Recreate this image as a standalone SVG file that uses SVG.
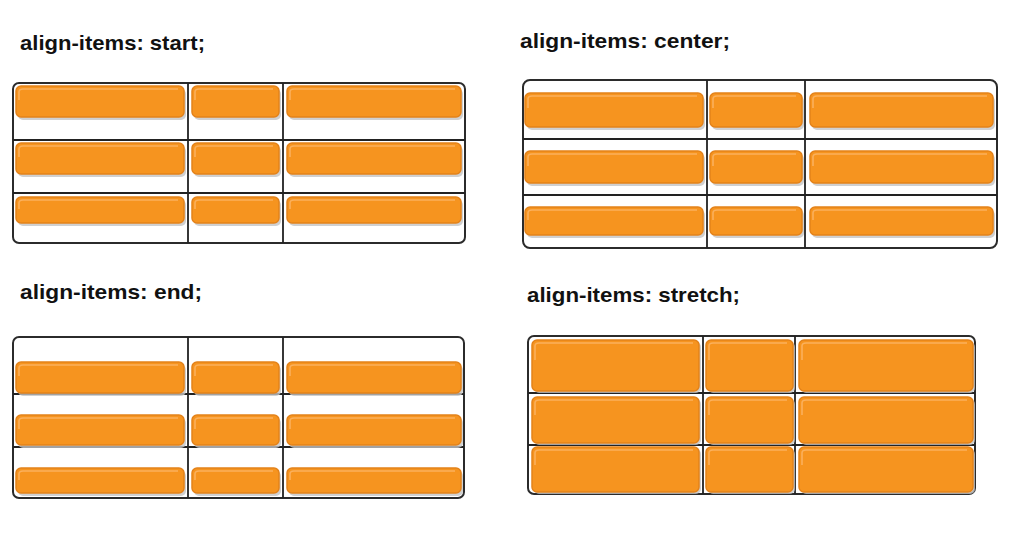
<svg xmlns="http://www.w3.org/2000/svg" width="1011" height="533" viewBox="0 0 1011 533">
<style>
.title{font-family:"Liberation Sans",Arial,sans-serif;font-weight:bold;font-size:21px;fill:#111}
.box{fill:#fff;stroke:#2b2b2b;stroke-width:2}
.div{stroke:#222;stroke-width:1.8;fill:none}
.sh{fill:#c4c4c4;opacity:0.8}
.bar{fill:#F6941F;stroke:#E3821A;stroke-width:1.5}
.hl{fill:none;stroke:#FBB566;stroke-width:1.6;opacity:0.85}
</style>
<rect width="1011" height="533" fill="#fff"/>

<g id="panel-start">
<text class="title" x="20" y="50" textLength="185" lengthAdjust="spacingAndGlyphs">align-items: start;</text>
<rect class="box" x="13" y="83" width="452" height="160" rx="6"/>
<path class="div" d="M188 83V243M283 83V243M13 140H465M13 193H465"/>
<g id="s-bars">
<rect class="sh" x="18" y="89" width="168" height="31" rx="5"/><rect class="bar" x="16" y="86" width="168" height="31" rx="5"/><path class="hl" d="M19 100V92Q19 89 23 89H178"/>
<rect class="sh" x="194" y="89" width="87" height="31" rx="5"/><rect class="bar" x="192" y="86" width="87" height="31" rx="5"/><path class="hl" d="M195 100V92Q195 89 199 89H273"/>
<rect class="sh" x="289" y="89" width="174" height="31" rx="5"/><rect class="bar" x="287" y="86" width="174" height="31" rx="5"/><path class="hl" d="M290 100V92Q290 89 294 89H455"/>
<rect class="sh" x="18" y="146" width="168" height="31" rx="5"/><rect class="bar" x="16" y="143" width="168" height="31" rx="5"/><path class="hl" d="M19 157V149Q19 146 23 146H178"/>
<rect class="sh" x="194" y="146" width="87" height="31" rx="5"/><rect class="bar" x="192" y="143" width="87" height="31" rx="5"/><path class="hl" d="M195 157V149Q195 146 199 146H273"/>
<rect class="sh" x="289" y="146" width="174" height="31" rx="5"/><rect class="bar" x="287" y="143" width="174" height="31" rx="5"/><path class="hl" d="M290 157V149Q290 146 294 146H455"/>
<rect class="sh" x="18" y="200" width="168" height="26" rx="5"/><rect class="bar" x="16" y="197" width="168" height="26" rx="5"/><path class="hl" d="M19 209V203Q19 200 23 200H178"/>
<rect class="sh" x="194" y="200" width="87" height="26" rx="5"/><rect class="bar" x="192" y="197" width="87" height="26" rx="5"/><path class="hl" d="M195 209V203Q195 200 199 200H273"/>
<rect class="sh" x="289" y="200" width="174" height="26" rx="5"/><rect class="bar" x="287" y="197" width="174" height="26" rx="5"/><path class="hl" d="M290 209V203Q290 200 294 200H455"/>
</g>
</g>

<g id="panel-center">
<text class="title" x="520" y="48" textLength="210" lengthAdjust="spacingAndGlyphs">align-items: center;</text>
<rect class="box" x="523" y="80" width="474" height="168" rx="7"/>
<path class="div" d="M707 80V248M805 80V248M523 139H997M523 195H997"/>
<g id="c-bars">
<rect class="sh" x="527" y="96" width="178" height="34" rx="5"/><rect class="bar" x="525" y="93" width="178" height="34" rx="5"/><path class="hl" d="M528 108V99Q528 96 532 96H697"/>
<rect class="sh" x="712" y="96" width="92" height="34" rx="5"/><rect class="bar" x="710" y="93" width="92" height="34" rx="5"/><path class="hl" d="M713 108V99Q713 96 717 96H796"/>
<rect class="sh" x="812" y="96" width="183" height="34" rx="5"/><rect class="bar" x="810" y="93" width="183" height="34" rx="5"/><path class="hl" d="M813 108V99Q813 96 817 96H987"/>
<rect class="sh" x="527" y="154" width="178" height="32" rx="5"/><rect class="bar" x="525" y="151" width="178" height="32" rx="5"/><path class="hl" d="M528 166V157Q528 154 532 154H697"/>
<rect class="sh" x="712" y="154" width="92" height="32" rx="5"/><rect class="bar" x="710" y="151" width="92" height="32" rx="5"/><path class="hl" d="M713 166V157Q713 154 717 154H796"/>
<rect class="sh" x="812" y="154" width="183" height="32" rx="5"/><rect class="bar" x="810" y="151" width="183" height="32" rx="5"/><path class="hl" d="M813 166V157Q813 154 817 154H987"/>
<rect class="sh" x="527" y="210" width="178" height="28" rx="5"/><rect class="bar" x="525" y="207" width="178" height="28" rx="5"/><path class="hl" d="M528 220V213Q528 210 532 210H697"/>
<rect class="sh" x="712" y="210" width="92" height="28" rx="5"/><rect class="bar" x="710" y="207" width="92" height="28" rx="5"/><path class="hl" d="M713 220V213Q713 210 717 210H796"/>
<rect class="sh" x="812" y="210" width="183" height="28" rx="5"/><rect class="bar" x="810" y="207" width="183" height="28" rx="5"/><path class="hl" d="M813 220V213Q813 210 817 210H987"/>
</g>
</g>

<g id="panel-end">
<text class="title" x="20" y="299" textLength="182" lengthAdjust="spacingAndGlyphs">align-items: end;</text>
<rect class="box" x="13" y="337" width="451" height="161" rx="6"/>
<path class="div" d="M188 337V498M283 337V498M13 394H464M13 447H464"/>
<g id="e-bars">
<rect class="sh" x="18" y="365" width="168" height="31" rx="5"/><rect class="bar" x="16" y="362" width="168" height="31" rx="5"/><path class="hl" d="M19 376V368Q19 365 23 365H178"/>
<rect class="sh" x="194" y="365" width="87" height="31" rx="5"/><rect class="bar" x="192" y="362" width="87" height="31" rx="5"/><path class="hl" d="M195 376V368Q195 365 199 365H273"/>
<rect class="sh" x="289" y="365" width="174" height="31" rx="5"/><rect class="bar" x="287" y="362" width="174" height="31" rx="5"/><path class="hl" d="M290 376V368Q290 365 294 365H455"/>
<rect class="sh" x="18" y="418" width="168" height="30" rx="5"/><rect class="bar" x="16" y="415" width="168" height="30" rx="5"/><path class="hl" d="M19 429V421Q19 418 23 418H178"/>
<rect class="sh" x="194" y="418" width="87" height="30" rx="5"/><rect class="bar" x="192" y="415" width="87" height="30" rx="5"/><path class="hl" d="M195 429V421Q195 418 199 418H273"/>
<rect class="sh" x="289" y="418" width="174" height="30" rx="5"/><rect class="bar" x="287" y="415" width="174" height="30" rx="5"/><path class="hl" d="M290 429V421Q290 418 294 418H455"/>
<rect class="sh" x="18" y="471" width="168" height="25" rx="5"/><rect class="bar" x="16" y="468" width="168" height="25" rx="5"/><path class="hl" d="M19 480V474Q19 471 23 471H178"/>
<rect class="sh" x="194" y="471" width="87" height="25" rx="5"/><rect class="bar" x="192" y="468" width="87" height="25" rx="5"/><path class="hl" d="M195 480V474Q195 471 199 471H273"/>
<rect class="sh" x="289" y="471" width="174" height="25" rx="5"/><rect class="bar" x="287" y="468" width="174" height="25" rx="5"/><path class="hl" d="M290 480V474Q290 471 294 471H455"/>
</g>
</g>

<g id="panel-stretch">
<text class="title" x="527" y="302" textLength="213" lengthAdjust="spacingAndGlyphs">align-items: stretch;</text>
<rect class="box" x="528" y="336" width="447" height="158" rx="6"/>
<path class="div" d="M703 336V494M795 336V494M528 393H975M528 445H975"/>
<g id="t-bars">
<rect class="sh" x="534" y="342" width="167" height="51" rx="5"/><rect class="bar" x="532" y="340" width="167" height="51" rx="5"/><path class="hl" d="M535 360V346Q535 343 539 343H693"/>
<rect class="sh" x="708" y="342" width="87" height="51" rx="5"/><rect class="bar" x="706" y="340" width="87" height="51" rx="5"/><path class="hl" d="M709 360V346Q709 343 713 343H787"/>
<rect class="sh" x="801" y="342" width="174" height="51" rx="5"/><rect class="bar" x="799" y="340" width="174" height="51" rx="5"/><path class="hl" d="M802 360V346Q802 343 806 343H967"/>
<rect class="sh" x="534" y="399" width="167" height="46" rx="5"/><rect class="bar" x="532" y="397" width="167" height="46" rx="5"/><path class="hl" d="M535 415V403Q535 400 539 400H693"/>
<rect class="sh" x="708" y="399" width="87" height="46" rx="5"/><rect class="bar" x="706" y="397" width="87" height="46" rx="5"/><path class="hl" d="M709 415V403Q709 400 713 400H787"/>
<rect class="sh" x="801" y="399" width="174" height="46" rx="5"/><rect class="bar" x="799" y="397" width="174" height="46" rx="5"/><path class="hl" d="M802 415V403Q802 400 806 400H967"/>
<rect class="sh" x="534" y="449" width="167" height="45" rx="5"/><rect class="bar" x="532" y="447" width="167" height="45" rx="5"/><path class="hl" d="M535 465V453Q535 450 539 450H693"/>
<rect class="sh" x="708" y="449" width="87" height="45" rx="5"/><rect class="bar" x="706" y="447" width="87" height="45" rx="5"/><path class="hl" d="M709 465V453Q709 450 713 450H787"/>
<rect class="sh" x="801" y="449" width="174" height="45" rx="5"/><rect class="bar" x="799" y="447" width="174" height="45" rx="5"/><path class="hl" d="M802 465V453Q802 450 806 450H967"/>
</g>
</g>
</svg>
